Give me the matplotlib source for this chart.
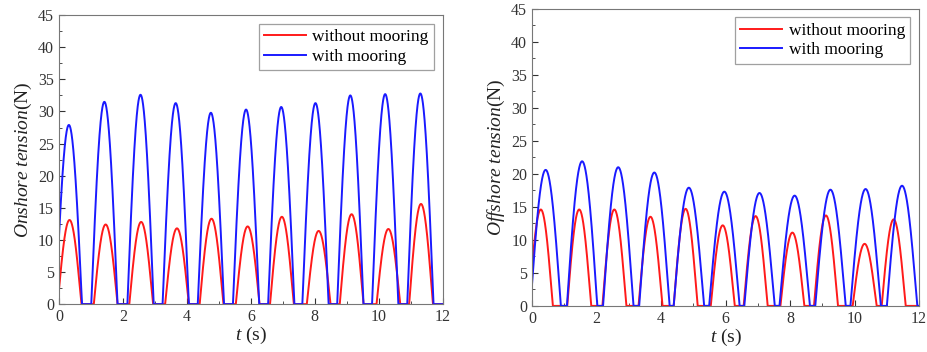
import numpy as np
import matplotlib.pyplot as plt
from matplotlib.ticker import MultipleLocator

plt.rcParams['font.family'] = 'Liberation Serif'
plt.rcParams['mathtext.fontset'] = 'custom'
plt.rcParams['mathtext.rm'] = 'Liberation Serif'
plt.rcParams['mathtext.it'] = 'Liberation Serif:italic'

# peak times (s) and peak tensions (N) of each pulse
on_red_t = [0.33, 1.46, 2.57, 3.69, 4.77, 5.90, 6.97, 8.12, 9.15, 10.30, 11.32]
on_red_peak = [13.1, 12.4, 12.8, 11.8, 13.3, 12.1, 13.6, 11.4, 14.0, 11.7, 15.6]
on_blue_t = [0.31, 1.42, 2.55, 3.65, 4.75, 5.85, 6.95, 8.02, 9.11, 10.20, 11.30]
on_blue_peak = [27.9, 31.5, 32.6, 31.3, 29.8, 30.3, 30.7, 31.3, 32.5, 32.7, 32.8]

off_red_t = [0.27, 1.46, 2.55, 3.67, 4.76, 5.91, 6.93, 8.07, 9.11, 10.31, 11.21]
off_red_peak = [14.6, 14.6, 14.6, 13.5, 14.7, 12.2, 13.6, 11.1, 13.7, 9.4, 13.1]
off_blue_t = [0.42, 1.55, 2.67, 3.79, 4.86, 5.96, 7.05, 8.14, 9.25, 10.34, 11.47]
off_blue_peak = [20.6, 21.9, 21.0, 20.2, 17.9, 17.3, 17.1, 16.7, 17.6, 17.7, 18.2]

# half duration of a tension pulse (s)
on_red_w, on_blue_w = 0.37, 0.41
off_red_w, off_blue_w = 0.37, 0.47

labels = ['without mooring', 'with mooring']
ylabels = [r'$\mathit{Onshore\ tension}$(N)', r'$\mathit{Offshore\ tension}$(N)']

t = np.linspace(0, 12, 4801)


def pulses(times, peaks, w):
    y = np.zeros_like(t)
    for tp, a in zip(times, peaks):
        m = np.abs(t - tp) < w
        y[m] = a * np.cos(np.pi / 2 * (t[m] - tp) / w)
    return y


fig = plt.figure(figsize=(9.27, 3.52), dpi=100)
ax1 = fig.add_axes([0.0636, 0.136, 0.414, 0.821])
ax2 = fig.add_axes([0.574, 0.131, 0.4175, 0.844])

data = [
    (ax1, (on_red_t, on_red_peak, on_red_w), (on_blue_t, on_blue_peak, on_blue_w)),
    (ax2, (off_red_t, off_red_peak, off_red_w), (off_blue_t, off_blue_peak, off_blue_w)),
]

for i, (ax, red, blue) in enumerate(data):
    ax.plot(t, pulses(*red), color='#ff1a1a', lw=1.4, label=labels[0])
    ax.plot(t, pulses(*blue), color='#1a1aff', lw=1.4, label=labels[1])
    ax.set_xlim(0, 12)
    ax.set_ylim(0, 45)
    ax.xaxis.set_major_locator(MultipleLocator(2))
    ax.xaxis.set_minor_locator(MultipleLocator(1))
    ax.yaxis.set_major_locator(MultipleLocator(5))
    ax.yaxis.set_minor_locator(MultipleLocator(2.5))
    ax.tick_params(which='both', direction='in', labelsize=11.5, colors='#333333',
                   top=False, right=False)
    ax.tick_params(which='major', length=4)
    ax.tick_params(which='minor', length=2)
    for s in ax.spines.values():
        s.set_color('#777777')
    ax.set_xlabel(r'$\mathit{t}$ (s)', fontsize=14, labelpad=0, color='#222222')
    ax.set_ylabel(ylabels[i], fontsize=14, labelpad=3, color='#222222')
    leg = ax.legend(loc='upper right', fontsize=12.5, fancybox=False,
                    handlelength=2.4, handletextpad=0.4, borderpad=0.3,
                    labelspacing=0.2, borderaxespad=0.5)
    leg.get_frame().set_edgecolor('#888888')
    leg.get_frame().set_linewidth(0.9)

plt.savefig('out.png', dpi=100)
